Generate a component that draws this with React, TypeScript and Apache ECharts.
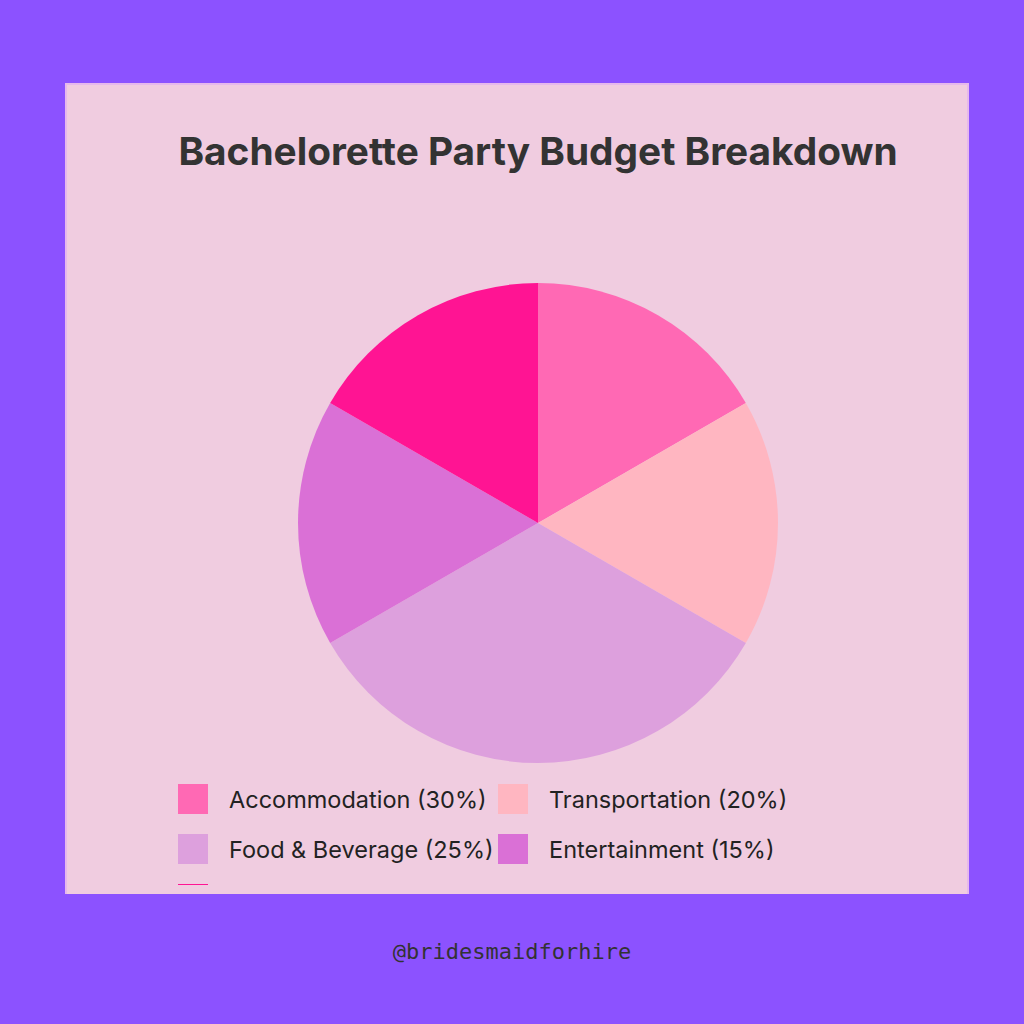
import React, { useEffect, useRef } from "react";
import * as echarts from "echarts";

const categories = ["Accommodation", "Transportation", "Food & Beverage", "Entertainment", "Miscellaneous"];
const sharePercents = [30, 20, 25, 15, 10];
const sliceValues = [1, 1, 2, 1, 1];
const sliceColors = ["#FF69B4", "#FFB6C1", "#DDA0DD", "#DA70D6", "#FF1493"];
const titleText = "Bachelorette Party Budget Breakdown";
const watermarkText = "@bridesmaidforhire";

export default function App() {
  const ref = useRef<HTMLDivElement>(null);
  useEffect(() => {
    const chart = echarts.init(ref.current!, null, { renderer: "svg" });
    const pctOf: Record<string, number> = {};
    categories.forEach((c, i) => (pctOf[c] = sharePercents[i]));
    const legendBase = {
      orient: "vertical" as const,
      top: 784,
      itemWidth: 30,
      itemHeight: 30,
      itemGap: 20,
      icon: "rect",
      selectedMode: false,
      padding: 0,
      formatter: (name: string) => `${name} (${pctOf[name]}%)`,
      textStyle: {
        fontFamily: "Inter",
        fontSize: 23.5,
        color: "#222222",
        padding: [0, 0, 0, 16],
      },
    };
    chart.setOption({
      animation: false,
      backgroundColor: "#8C52FF",
      legend: [
        { ...legendBase, left: 178, data: [categories[0], categories[2], categories[4]] },
        { ...legendBase, left: 498, data: [categories[1], categories[3]] },
      ],
      series: [
        {
          type: "pie",
          center: [538, 523],
          radius: [0, 240],
          startAngle: 90,
          clockwise: true,
          label: { show: false },
          labelLine: { show: false },
          emphasis: { disabled: true },
          itemStyle: { borderWidth: 0 },
          data: categories.map((c, i) => ({
            name: c,
            value: sliceValues[i],
            itemStyle: { color: sliceColors[i] },
          })),
        },
      ],
      graphic: [
        {
          type: "rect",
          z: -1,
          shape: { x: 66, y: 84, width: 902, height: 810 },
          style: { fill: "#F0CCE0", stroke: "#E6B8EC", lineWidth: 2 },
        },
        {
          type: "text",
          z: 5,
          x: 538,
          y: 150,
          style: {
            text: titleText,
            fontFamily: "Inter",
            fontWeight: "bold",
            fontSize: 38.8,
            fill: "#333333",
            align: "center",
            verticalAlign: "middle",
          },
        },
        {
          type: "rect",
          z: 50,
          shape: { x: 67, y: 885, width: 900, height: 9 },
          style: { fill: "#F0CCE0" },
        },
        {
          type: "rect",
          z: 50,
          shape: { x: 0, y: 894, width: 1024, height: 130 },
          style: { fill: "#8C52FF" },
        },
        {
          type: "text",
          z: 60,
          x: 512,
          y: 951,
          style: {
            text: watermarkText,
            fontFamily: "DejaVu Sans Mono",
            fontSize: 22,
            fill: "#333333",
            align: "center",
            verticalAlign: "middle",
          },
        },
      ],
    });
    return () => chart.dispose();
  }, []);
  return (
    <div
      ref={ref}
      style={{ position: "fixed", left: 0, top: 0, width: 1024, height: 1024 }}
    />
  );
}
